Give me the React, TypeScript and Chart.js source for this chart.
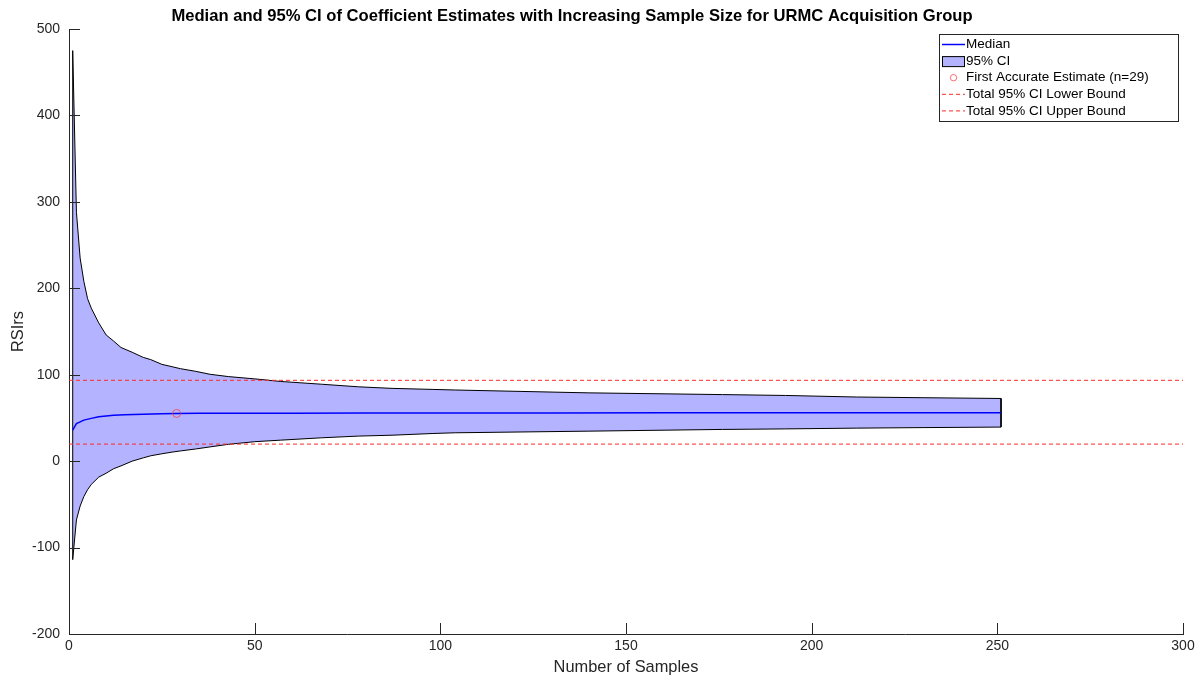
import React, { useEffect, useRef } from "react";
import { Chart, registerables } from "chart.js";

Chart.register(...registerables);

// ---- Data ----
const nCI = [1, 2, 3, 4, 5, 6, 8, 10, 12, 14, 17, 20, 22, 25, 28, 30, 34, 38, 43, 50, 57, 68, 78, 87, 98, 104, 140, 176, 193, 212, 230, 251];
const ciUpper = [475, 288, 235, 208, 188, 177, 160, 146, 139, 131.5, 126, 120, 117.5, 112, 109, 107, 104, 100.5, 97.8, 95.2, 92.2, 89, 86, 84.2, 83, 82.3, 79, 77, 76, 74.2, 73.4, 72.5];
const ciLower = [-114, -68, -52, -41, -33, -27, -18.5, -14, -8.8, -5.5, 0, 3.8, 6.2, 8.5, 10.6, 11.8, 14, 16.5, 19.5, 22.5, 24.3, 27, 29, 30, 32, 32.8, 34.7, 36.7, 37.3, 38.2, 38.8, 39.4];

const nMedian = [1, 2, 3, 4, 6, 8, 10, 12, 15, 20, 25, 29, 35, 45, 60, 80, 100, 130, 160, 200, 251];
const medianValues = [36, 43.5, 45.5, 47.5, 49.5, 51.3, 52.3, 53.2, 53.8, 54.4, 54.9, 55.2, 55.3, 55.4, 55.5, 55.6, 55.7, 55.8, 55.9, 56, 56];

const totalCILower = 19.7;
const totalCIUpper = 93.4;
const boundX = [0, 300];

const firstAccurateN = 29;
const firstAccurateValue = 55.2;

const titleText = "Median and 95% CI of Coefficient Estimates with Increasing Sample Size for URMC Acquisition Group";
const xLabel = "Number of Samples";
const yLabel = "RSIrs";

const FONT = "'Liberation Sans', Arial, Helvetica, sans-serif";
const AXIS_COLOR = "#262626";

const decorPlugin = {
  id: "decor",
  afterDatasetsDraw(chart: any) {
    const ctx = chart.ctx;
    const area = chart.chartArea;
    const xs = chart.scales.x;
    const ys = chart.scales.y;
    ctx.save();
    // inward tick marks
    ctx.strokeStyle = AXIS_COLOR;
    ctx.lineWidth = 1;
    ctx.beginPath();
    xs.ticks.forEach((t: any) => {
      const px = Math.round(xs.getPixelForValue(t.value)) + 0.5;
      ctx.moveTo(px, area.bottom);
      ctx.lineTo(px, area.bottom - 11);
    });
    ys.ticks.forEach((t: any) => {
      const py = Math.round(ys.getPixelForValue(t.value)) + 0.5;
      ctx.moveTo(area.left, py);
      ctx.lineTo(area.left + 11, py);
    });
    ctx.stroke();
    ctx.restore();
  },
  afterDraw(chart: any) {
    const ctx = chart.ctx;
    ctx.save();
    // title
    ctx.fillStyle = "#000";
    ctx.font = `bold 16.6px ${FONT}`;
    ctx.textAlign = "center";
    ctx.textBaseline = "middle";
    ctx.fillText(titleText, 572, 16);

    // legend
    const lx = 939, ly = 34, lw = 239, lh = 87;
    ctx.fillStyle = "#fff";
    ctx.fillRect(lx, ly, lw, lh);
    ctx.strokeStyle = AXIS_COLOR;
    ctx.lineWidth = 1;
    ctx.strokeRect(lx + 0.5, ly + 0.5, lw, lh);
    ctx.font = `13.5px ${FONT}`;
    ctx.textAlign = "left";
    ctx.textBaseline = "middle";
    chart.data.datasets.forEach((ds: any, i: number) => {
      const cy = ly + 10.5 + i * 16.6;
      const x0 = lx + 3, x1 = lx + 26;
      ctx.save();
      if (ds.fill) {
        ctx.fillStyle = ds.backgroundColor;
        ctx.fillRect(x0, cy - 5, x1 - x0, 10);
        ctx.strokeStyle = ds.borderColor;
        ctx.lineWidth = 1;
        ctx.strokeRect(x0 + 0.5, cy - 5 + 0.5, x1 - x0 - 1, 10);
      } else if (ds.showLine === false) {
        ctx.strokeStyle = ds.borderColor;
        ctx.lineWidth = 1;
        ctx.beginPath();
        ctx.arc((x0 + x1) / 2, cy, 3.2, 0, Math.PI * 2);
        ctx.stroke();
      } else {
        ctx.strokeStyle = ds.borderColor;
        ctx.lineWidth = ds.borderWidth;
        ctx.setLineDash(ds.borderDash || []);
        ctx.beginPath();
        ctx.moveTo(x0, cy);
        ctx.lineTo(x1, cy);
        ctx.stroke();
      }
      ctx.restore();
      ctx.fillStyle = "#000";
      ctx.fillText(ds.label, x1 + 1, cy);
    });
    ctx.restore();
  },
};

export default function App() {
  const canvasRef = useRef<HTMLCanvasElement | null>(null);

  useEffect(() => {
    document.body.style.margin = "0";
    const canvas = canvasRef.current;
    if (!canvas) return;

    const ciPolygon = [
      ...nCI.map((n, i) => ({ x: n, y: ciUpper[i] })),
      ...nCI.map((n, i) => ({ x: n, y: ciLower[i] })).reverse(),
      { x: nCI[0], y: ciUpper[0] },
    ];
    const medianPts = nMedian.map((n, i) => ({ x: n, y: medianValues[i] }));

    const chart = new Chart(canvas, {
      type: "line",
      data: {
        datasets: [
          {
            label: "Median",
            data: medianPts,
            borderColor: "rgb(0,0,255)",
            borderWidth: 1.5,
            pointRadius: 0,
            fill: false,
            order: 2,
          } as any,
          {
            label: "95% CI",
            data: ciPolygon,
            borderColor: "#000",
            borderWidth: 1,
            backgroundColor: "rgb(179,179,255)",
            pointRadius: 0,
            fill: "shape",
            order: 5,
          },
          {
            label: `First Accurate Estimate (n=${firstAccurateN})`,
            data: [{ x: firstAccurateN, y: firstAccurateValue }],
            showLine: false,
            borderColor: "rgba(255,60,60,0.75)",
            backgroundColor: "rgba(0,0,0,0)",
            pointRadius: 4,
            pointBorderWidth: 1,
            pointStyle: "circle",
            fill: false,
            order: 1,
          },
          {
            label: "Total 95% CI Lower Bound",
            data: boundX.map((x) => ({ x, y: totalCILower })),
            borderColor: "rgba(255,40,40,0.8)",
            borderWidth: 1.2,
            borderDash: [4, 3],
            pointRadius: 0,
            fill: false,
            order: 3,
          },
          {
            label: "Total 95% CI Upper Bound",
            data: boundX.map((x) => ({ x, y: totalCIUpper })),
            borderColor: "rgba(255,40,40,0.8)",
            borderWidth: 1.2,
            borderDash: [4, 3],
            pointRadius: 0,
            fill: false,
            order: 3,
          },
        ],
      },
      options: {
        responsive: false,
        animation: false,
        devicePixelRatio: 1,
        layout: { padding: { top: 29, right: 18, left: 0, bottom: 0 } },
        plugins: {
          legend: { display: false },
          title: { display: false },
          tooltip: { enabled: false },
        },
        elements: { line: { tension: 0 } },
        scales: {
          x: {
            type: "linear",
            min: 0,
            max: 300,
            ticks: {
              stepSize: 50,
              color: AXIS_COLOR,
              font: { family: FONT, size: 14 },
              padding: 4,
              maxRotation: 0,
            },
            grid: { display: false, drawTicks: false },
            border: { display: true, color: AXIS_COLOR, width: 1 },
            title: {
              display: true,
              text: xLabel,
              color: AXIS_COLOR,
              font: { family: FONT, size: 16.4 },
              padding: { top: 0, bottom: 3 },
            },
            afterFit(scale: any) {
              scale.height = 46;
            },
          },
          y: {
            type: "linear",
            min: -200,
            max: 500,
            ticks: {
              stepSize: 100,
              color: AXIS_COLOR,
              font: { family: FONT, size: 14 },
              padding: 9,
            },
            grid: { display: false, drawTicks: false },
            border: { display: true, color: AXIS_COLOR, width: 1 },
            title: {
              display: true,
              text: yLabel,
              color: AXIS_COLOR,
              font: { family: FONT, size: 16.4 },
              padding: { top: 9, bottom: 0 },
            },
            afterFit(scale: any) {
              scale.width = 69;
            },
          },
        },
      },
      plugins: [decorPlugin],
    } as any);

    return () => {
      chart.destroy();
    };
  }, []);

  return (
    <div style={{ width: 1201, height: 680 }}>
      <canvas ref={canvasRef} width={1201} height={680} style={{ display: "block" }} />
    </div>
  );
}
